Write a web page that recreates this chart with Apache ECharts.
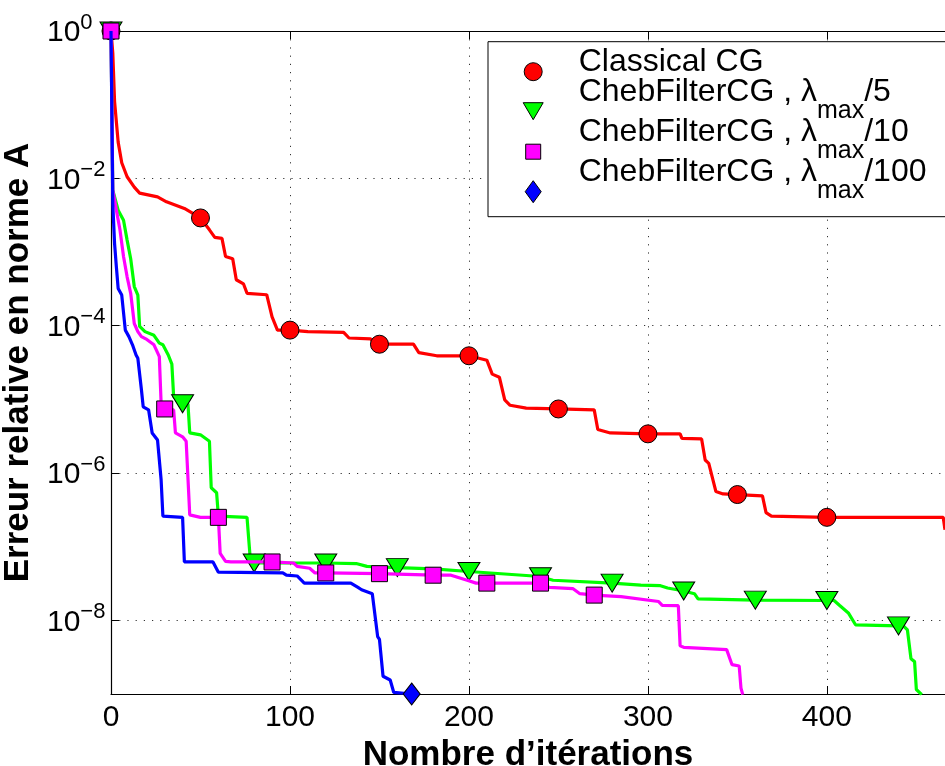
<!DOCTYPE html>
<html>
<head>
<meta charset="utf-8">
<script src="https://cdn.jsdelivr.net/npm/echarts@6/dist/echarts.min.js"></script>
<style>
  html, body { margin: 0; padding: 0; background: #fff; }
  #chart { width: 945px; height: 766px; }
</style>
</head>
<body>
<div id="chart"></div>
<script>
const FONT = '"Liberation Sans", Arial, Helvetica, sans-serif';

// Series labels and colours
const seriesNames = [
  'Classical CG',
  'ChebFilterCG , λmax/5',
  'ChebFilterCG , λmax/10',
  'ChebFilterCG , λmax/100'
];
const legendDivisors = [null, '5', '10', '100'];
const seriesColors = ['#ff0000', '#00ff00', '#ff00ff', '#0000ff'];

// Axis ticks
const xTickLabels = [0, 100, 200, 300, 400];
const yTickExponents = [0, -2, -4, -6, -8];

// Relative A-norm error per iteration: [iteration, error]
const classicalCG = [
  [0, 1], [1, 0.5], [2, 0.11], [4, 0.031], [6, 0.0163], [9, 0.0105], [13, 0.0076], [16, 0.0063],
  [26, 0.0056], [31, 0.0048], [41, 0.0039], [50, 0.0029], [55, 0.0020], [58, 0.00158], [62, 0.00153],
  [64, 0.00087], [68, 0.00081], [70, 0.00042], [74, 0.00037], [76, 0.000275], [87, 0.000263],
  [90, 0.000132], [93, 8.7e-5], [100, 8.7e-5], [110, 8.3e-5], [130, 8.1e-5], [133, 6.8e-5],
  [145, 6.6e-5], [148, 5.6e-5], [150, 5.6e-5], [169, 5.6e-5], [172, 4.3e-5], [182, 3.9e-5],
  [200, 3.9e-5], [210, 3.4e-5], [213, 2.2e-5], [217, 2.0e-5], [220, 9.8e-6], [223, 8.3e-6],
  [232, 7.6e-6], [250, 7.4e-6], [270, 7.2e-6], [272, 3.9e-6], [279, 3.5e-6], [300, 3.4e-6],
  [318, 3.4e-6], [319, 2.95e-6], [330, 2.9e-6], [332, 1.5e-6], [334, 1.35e-6], [338, 5.6e-7],
  [342, 5.2e-7], [350, 5.1e-7], [364, 4.9e-7], [366, 2.9e-7], [369, 2.6e-7], [400, 2.5e-7],
  [465, 2.5e-7], [466, 1.7e-7]
];
const chebLmax5 = [
  [0, 1], [1, 6.9e-3], [4, 3.7e-3], [7, 2.7e-3], [9, 1.45e-3], [11, 8.1e-4], [13, 3.4e-4], [15, 2.6e-4],
  [16, 9.8e-5], [19, 8.3e-5], [24, 7.4e-5], [27, 5.8e-5], [29, 5.5e-5], [32, 4.0e-5], [34, 3.0e-5],
  [35, 1.1e-5], [38, 8.9e-6], [40, 8.7e-6], [43, 8.7e-6], [44, 3.5e-6], [50, 3.3e-6], [55, 2.7e-6],
  [56, 6.3e-7], [59, 5.4e-7], [60, 2.6e-7], [76, 2.5e-7], [78, 6.0e-8], [80, 6.0e-8], [120, 6.0e-8],
  [137, 5.9e-8], [143, 5.4e-8], [160, 5.2e-8], [180, 5.0e-8], [200, 4.6e-8], [236, 4.0e-8],
  [240, 3.9e-8], [247, 3.5e-8], [280, 3.2e-8], [296, 3.0e-8], [307, 2.95e-8], [311, 2.75e-8],
  [320, 2.5e-8], [326, 2.3e-8], [328, 1.95e-8], [360, 1.88e-8], [400, 1.86e-8], [404, 1.86e-8],
  [407, 1.6e-8], [412, 1.26e-8], [416, 8.7e-9], [440, 8.4e-9], [443, 8.3e-9], [445, 7.4e-9],
  [447, 3.0e-9], [449, 2.75e-9], [450, 1.15e-9], [453, 9.8e-10]
];
const chebLmax10 = [
  [0, 1], [1, 6.9e-3], [3, 3.7e-3], [5, 2.0e-3], [7, 8.7e-4], [9, 4.6e-4], [11, 2.75e-4], [13, 1.07e-4],
  [15, 8.3e-5], [17, 7.1e-5], [20, 6.5e-5], [24, 5.5e-5], [26, 4.3e-5], [27, 3.8e-5], [28, 8.9e-6],
  [30, 7.4e-6], [35, 7.2e-6], [36, 3.5e-6], [40, 3.1e-6], [42, 2.7e-6], [43, 2.6e-6], [44, 2.7e-7],
  [50, 2.5e-7], [60, 2.5e-7], [61, 8.1e-8], [64, 6.3e-8], [67, 6.2e-8], [90, 6.2e-8], [102, 6.0e-8],
  [104, 5.4e-8], [111, 5.1e-8], [114, 4.4e-8], [120, 4.4e-8], [150, 4.3e-8], [180, 4.1e-8],
  [190, 4.1e-8], [199, 3.5e-8], [204, 3.2e-8], [210, 3.2e-8], [240, 3.2e-8], [245, 2.8e-8],
  [258, 2.7e-8], [262, 2.3e-8], [270, 2.2e-8], [285, 2.1e-8], [306, 1.8e-8], [308, 1.6e-8],
  [317, 1.58e-8], [318, 4.5e-9], [320, 4.3e-9], [344, 4.0e-9], [347, 2.5e-9], [351, 2.4e-9],
  [352, 1.2e-9], [353, 9.8e-10]
];
const chebLmax100 = [
  [0, 1], [1, 4.5e-3], [2, 1.3e-3], [3, 6.3e-4], [4, 3.2e-4], [6, 2.6e-4], [7, 1.5e-4], [8, 8.7e-5],
  [10, 7.1e-5], [12, 5.5e-5], [14, 4.0e-5], [15, 3.6e-5], [17, 1.35e-5], [18, 7.9e-6], [21, 7.2e-6],
  [23, 3.5e-6], [26, 2.8e-6], [28, 8.1e-7], [29, 2.6e-7], [40, 2.5e-7], [41, 6.2e-8], [57, 6.2e-8],
  [60, 4.5e-8], [96, 4.4e-8], [98, 4.1e-8], [104, 4.0e-8], [108, 3.2e-8], [134, 3.2e-8],
  [138, 2.8e-8], [140, 2.6e-8], [146, 2.3e-8], [149, 6.0e-9], [150, 5.5e-9], [152, 1.74e-9],
  [156, 1.55e-9], [158, 1.05e-9], [168, 1e-9]
];

// Iterations that carry a marker
const classicalMarks = [0, 50, 100, 150, 200, 250, 300, 350, 400];
const lmax5Marks = [0, 40, 80, 120, 160, 200, 240, 280, 320, 360, 400, 440];
const lmax10Marks = [0, 30, 60, 90, 120, 150, 180, 210, 240, 270];
const lmax100Marks = [168];

const seriesData = [classicalCG, chebLmax5, chebLmax10, chebLmax100];
const seriesMarks = [classicalMarks, lmax5Marks, lmax10Marks, lmax100Marks];

// Marker shapes on the curves
const markerStyles = [
  { symbol: 'circle', size: 18, rotate: 0 },
  { symbol: 'triangle', size: [22, 18], rotate: 180 },
  { symbol: 'rect', size: 16, rotate: 0 },
  { symbol: 'diamond', size: [17, 22], rotate: 0 }
];
// Legend icons, padded to a common 22x22 box so each keeps its own size
const legendIcons = [
  'path://M-2,-2M20,20M0,9A9,9 0 1,1 18,9A9,9 0 1,1 0,9Z',
  'path://M-1,-2M21,20M0,0L20,0L10,17Z',
  'path://M-3.5,-3.5M18.5,18.5M0,0H15V15H0Z',
  'path://M-3,0M19,0M8,0L16,11L8,22L0,11Z'
];

const series = seriesData.map((pts, i) => ({
  name: seriesNames[i],
  type: 'line',
  xAxisIndex: 0,
  yAxisIndex: 0,
  data: pts.map(p => ({
    value: p,
    symbol: seriesMarks[i].includes(p[0]) ? markerStyles[i].symbol : 'none'
  })),
  symbol: markerStyles[i].symbol,
  symbolSize: markerStyles[i].size,
  symbolRotate: markerStyles[i].rotate,
  showSymbol: true,
  showAllSymbol: true,
  clip: true,
  lineStyle: { color: seriesColors[i], width: 3.2 },
  itemStyle: { color: seriesColors[i], borderColor: '#000', borderWidth: 1 },
  emphasis: { disabled: true },
  z: 2 + i
}));

const dotted = { color: '#333', width: 1, type: [1.2, 7] };

const chart = echarts.init(document.getElementById('chart'), null, { renderer: 'canvas' });
chart.setOption({
  animation: false,
  backgroundColor: '#fff',
  grid: { left: 111, top: 31, right: 0, bottom: 72, containLabel: false, outerBoundsMode: 'none' },
  xAxis: [
    {
      type: 'value', min: 0, max: 466, interval: 100, position: 'bottom',
      name: 'Nombre d’itérations', nameLocation: 'middle', nameGap: 38,
      nameTextStyle: { fontFamily: FONT, fontSize: 35, fontWeight: 'bold', color: '#000' },
      axisLine: { show: true, onZero: false, lineStyle: { color: '#000', width: 1.2 } },
      axisTick: { show: true, inside: true, length: 8, lineStyle: { color: '#000' } },
      axisLabel: {
        fontFamily: FONT, fontSize: 30, color: '#000', margin: 9,
        formatter: v => (xTickLabels.includes(v) ? String(v) : '')
      },
      splitLine: { show: true, lineStyle: dotted }
    },
    {
      type: 'value', min: 0, max: 466, interval: 100, position: 'top',
      axisLine: { show: true, onZero: false, lineStyle: { color: '#000', width: 1.2 } },
      axisTick: { show: true, inside: true, length: 8, lineStyle: { color: '#000' } },
      axisLabel: { show: false },
      splitLine: { show: false }
    }
  ],
  yAxis: {
    type: 'log', logBase: 100, min: 1e-9, max: 1,
    name: 'Erreur relative en norme A', nameLocation: 'middle', nameGap: 65,
    nameTextStyle: { fontFamily: FONT, fontSize: 35, fontWeight: 'bold', color: '#000' },
    axisLine: { show: true, lineStyle: { color: '#000', width: 1.2 } },
    axisTick: { show: true, inside: true, length: 8, lineStyle: { color: '#000' } },
    axisLabel: {
      align: 'left', margin: 64, color: '#000',
      formatter: v => {
        const e = Math.round(Math.log10(v));
        if (!yTickExponents.includes(e)) return '';
        return '{b|10}{s|' + (e < 0 ? '\u2212' + (-e) : String(e)) + '}';
      },
      rich: {
        b: { fontFamily: FONT, fontSize: 30, lineHeight: 30, color: '#000', padding: [4, 0, 0, 0] },
        s: { fontFamily: FONT, fontSize: 22, lineHeight: 22, color: '#000', padding: [0, 0, 17, 0] }
      }
    },
    splitLine: { show: true, lineStyle: dotted }
  },
  legend: {
    show: true, orient: 'vertical', left: 488, top: 41.7,
    padding: [-6, 24, -11, 33.7],
    itemWidth: 81, itemHeight: 22, itemGap: -32,
    backgroundColor: '#fff', borderColor: '#000', borderWidth: 1, borderRadius: 0,
    selectedMode: false,
    z: 10,
    data: seriesNames.map((n, i) => ({ name: n, icon: legendIcons[i] })),
    itemStyle: { borderColor: '#000', borderWidth: 1 },
    textStyle: {
      fontFamily: FONT, fontSize: 32, color: '#000',
      rich: {
        c: { fontFamily: FONT, fontSize: 32, lineHeight: 18, color: '#000', padding: [10, 0, 30, 0] },
        t: { fontFamily: FONT, fontSize: 32, lineHeight: 18, color: '#000', padding: [0, 0, 40, 0] },
        s: { fontFamily: FONT, fontSize: 25, lineHeight: 18, color: '#000', padding: [18, 0, 20, 0] }
      }
    },
    formatter: name => {
      const i = seriesNames.indexOf(name);
      const d = legendDivisors[i];
      if (d === null) return '{c|' + name + '}';
      return '{t|ChebFilterCG , λ}{s|max}{t|/' + d + '}';
    }
  },
  series: series
});
</script>
</body>
</html>
